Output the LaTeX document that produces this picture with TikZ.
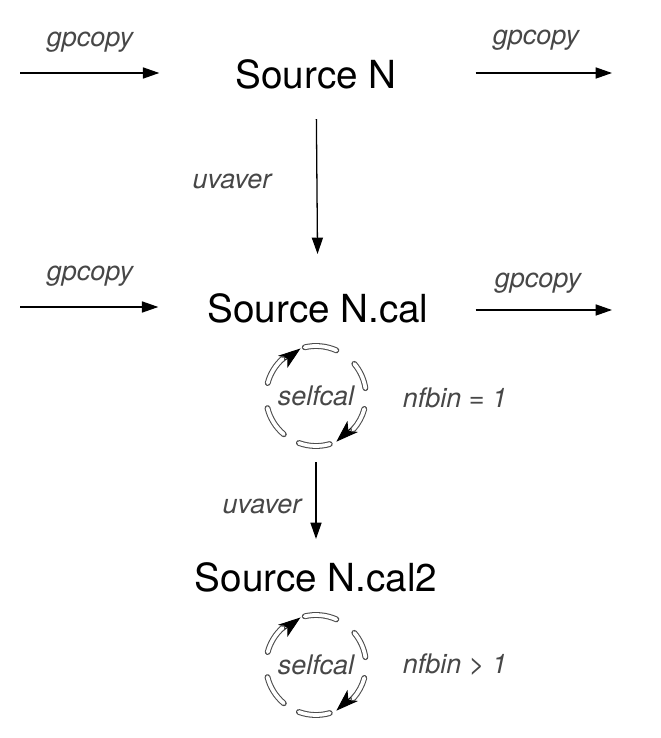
\documentclass[tikz,border=0pt]{standalone}
\usepackage{fontspec}
\setmainfont{TeX Gyre Heros}
\usetikzlibrary{arrows.meta,positioning}

\tikzset{
  src/.style={font=\fontsize{33}{36}\selectfont, inner sep=0pt},
  lbl/.style={font=\fontsize{23}{26}\selectfont\itshape, text=black!72, inner sep=0pt},
  flow/.style={line width=1.1pt, -{Triangle[length=14pt,width=9.5pt]}},
  loopdash/.style={draw=black!70, double=white, double distance=3.2pt, line width=0.9pt, line cap=round},
  looptip/.style={line width=0.8pt, -{Stealth[length=19pt,width=13pt,inset=5pt]}},
}

\begin{document}
\begin{tikzpicture}[x=0.3mm, y=0.3mm]
    \useasboundingbox (0,0) rectangle (660,738);
    % sources
    \node[src] (srcN) at (316,664) {Source N};
    \node[src] (srcNcal) at (318,430) {Source N.cal};
    \node[src] (srcNcal2) at (316,161) {Source N.cal2};
    % selfcal loops
    \node[lbl, circle, minimum size=30mm] (selfA) at (316,342) {selfcal};
    \node[lbl, circle, minimum size=30mm] (selfB) at (316,73) {selfcal};
    \foreach \n in {selfA,selfB}{
        \draw[looptip] ([shift={(-28:50)}]\n.center) -- ([shift={(-66:50)}]\n.center);
        \draw[looptip] ([shift={(146:50)}]\n.center) -- ([shift={(108:50)}]\n.center);
        \foreach \a/\b in {66/103, 9/40, -110/-74, 194/230}
            \draw[loopdash] ([shift={(\a:50)}]\n.center) arc[start angle=\a, end angle=\b, radius=50];
        \draw[loopdash] ([shift={(-15:50)}]\n.center) arc[start angle=-15, end angle=-42, radius=50];
        \draw[loopdash] ([shift={(165:50)}]\n.center) arc[start angle=165, end angle=132, radius=50];
    }
    \node[lbl] (binA) at (455,340) {nfbin = 1};
    \node[lbl] (binB) at (455,73) {nfbin > 1};
    % copies in and out
    \coordinate (inN) at (20,665);
    \coordinate (outN) at (612,665);
    \coordinate (inCal) at (20,431);
    \coordinate (outCal) at (612,428);
    \draw[flow, shorten >=22.8mm] (inN) -- (inN -| srcN.west);
    \draw[flow, shorten <=23.7mm] (outN -| srcN.east) -- (outN);
    \draw[flow, shorten >=14.7mm] (inCal) -- (inCal -| srcNcal.west);
    \draw[flow, shorten <=14.1mm] (outCal -| srcNcal.east) -- (outCal);
    \node[lbl] (cpyInN) at (90,696) {gpcopy};
    \node[lbl] (cpyOutN) at (536,698) {gpcopy};
    \node[lbl] (cpyInCal) at (90,462) {gpcopy};
    \node[lbl] (cpyOutCal) at (538,455) {gpcopy};
    % averaging
    \draw[flow, shorten <=9mm, shorten >=11.7mm] (srcN) -- (srcNcal);
    \draw[flow, shorten <=4.8mm, shorten >=6.9mm] (selfA) -- (srcNcal2);
    \node[lbl] (avgN) at (232,557) {uvaver};
    \node[lbl] (avgCal) at (262,232) {uvaver};
\end{tikzpicture}
\end{document}
